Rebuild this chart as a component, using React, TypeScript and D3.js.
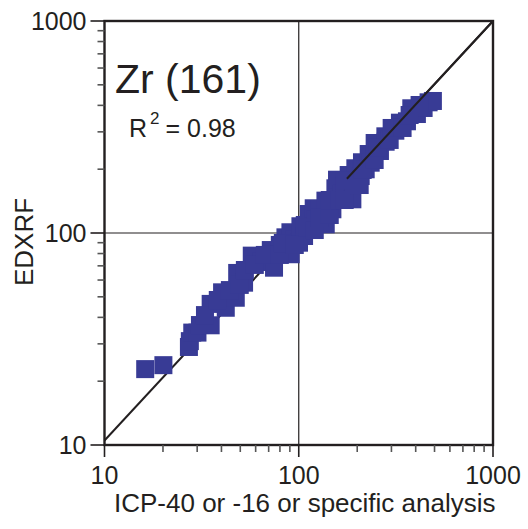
import React from "react";
import * as d3 from "d3";

const title = "Zr (161)";
const rSquared = "0.98";
const xAxisTitle = "ICP-40 or -16 or specific analysis";
const yAxisTitle = "EDXRF";
const majorTicks = [10, 100, 1000];
const minorTicks = [20, 30, 40, 50, 60, 70, 80, 90, 200, 300, 400, 500, 600, 700, 800, 900];

// ICP (x) and EDXRF (y) values
const icp = [
  16.2, 20.1, 27.2, 27.5, 28.3, 30.1, 35.2, 35.2, 42.1, 40.3, 47.4, 48.2, 52.3, 57.3, 64.5, 74.6,
  71.8, 79.9, 85.4, 90.9, 90.6, 95.4, 100.3, 102.0, 106.5, 107.4, 112.6, 119.4, 122.3, 128.2, 137.7,
  137.2, 149.0, 154.4, 157.4, 166.4, 172.4, 180.7, 188.8, 192.4, 195.6, 208.4, 211.6, 221.1, 229.1,
  234.6, 245.9, 261.8, 279.2, 280.1, 314.2, 331.8, 360.6, 379.7, 405.7, 439.3, 466.0, 490.4,
  31.0, 32.9, 38.3, 44.2, 49.7, 52.8, 59.4, 66.9, 79.9, 82.8, 95.4, 111.3, 120.9, 128.2, 144.4,
  144.4, 162.5, 172.4, 172.4, 205.9, 213.3, 245.9, 254.8, 293.8, 300.8, 342.4, 372.2, 418.9,
];
const edxrf = [
  22.8, 23.8, 29.0, 30.9, 33.9, 33.9, 36.7, 46.3, 44.4, 52.5, 49.5, 64.8, 58.3, 78.2, 73.0, 68.6,
  83.1, 87.8, 95.4, 79.4, 100.8, 92.7, 90.0, 107.6, 96.8, 109.1, 122.9, 130.8, 115.2, 128.4, 109.9,
  142.1, 129.4, 162.5, 178.4, 154.4, 166.6, 187.7, 144.2, 169.7, 202.0, 185.7, 215.6, 199.8, 235.8,
  214.6, 265.8, 243.7, 285.8, 269.5, 303.8, 331.4, 336.5, 387.5, 364.1, 388.8, 413.5, 419.5,
  36.8, 41.0, 48.3, 53.8, 56.9, 66.9, 70.7, 78.8, 78.8, 89.7, 87.8, 105.6, 103.3, 117.7, 121.6,
  143.1, 143.1, 143.1, 177.8, 168.4, 198.3, 221.0, 251.8, 274.7, 312.9, 312.9, 360.2, 401.6,
];
const fitLine = [
  [10, 10.5],
  [1000, 1000],
];
const fitLineTopFrom = 177;

const W = 528;
const H = 529;
const left = 104.5;
const right = 493;
const top = 21;
const bottom = 445;
const ink = "#231f20";
const markerFill = "#383b95";
const font = "'Liberation Sans', Arial, Helvetica, sans-serif";

export default function App() {
  const x = d3.scaleLog().domain([10, 1000]).range([left, right]);
  const y = d3.scaleLog().domain([10, 1000]).range([bottom, top]);
  const line = d3
    .line<number[]>()
    .x((d) => x(d[0]))
    .y((d) => y(d[1]));
  const slope = (Math.log10(fitLine[1][1]) - Math.log10(fitLine[0][1])) / 2;
  const topStart = [fitLineTopFrom, Math.pow(10, Math.log10(fitLine[0][1]) + slope * (Math.log10(fitLineTopFrom) - 1))];
  const size = 18;
  const points = icp.map((v, i) => [v, edxrf[i]]);

  return (
    <svg
      width={W}
      height={H}
      style={{ position: "absolute", left: 0, top: 0, background: "#fff" }}
      fontFamily={font}
    >
      <rect x={0} y={0} width={W} height={H} fill="#fff" />
      {/* inner reference lines */}
      <line x1={x(100)} x2={x(100)} y1={top} y2={bottom} stroke={ink} strokeWidth={1.2} />
      <line x1={left} x2={right} y1={y(100)} y2={y(100)} stroke={ink} strokeWidth={1.2} />
      {/* 1:1 line (under markers) */}
      <path d={line(fitLine) || ""} fill="none" stroke={ink} strokeWidth={2} />
      {/* markers */}
      {points.map((p, i) => (
        <rect
          key={i}
          x={x(p[0]) - size / 2}
          y={y(p[1]) - size / 2}
          width={size}
          height={size}
          fill={markerFill}
        />
      ))}
      {/* upper part of line on top */}
      <path d={line([topStart, fitLine[1]]) || ""} fill="none" stroke={ink} strokeWidth={2} />
      {/* frame */}
      <rect x={left} y={top} width={right - left} height={bottom - top} fill="none" stroke={ink} strokeWidth={2.4} />
      {/* y ticks */}
      {majorTicks.map((t) => (
        <line key={"ym" + t} x1={left - 14} x2={left} y1={y(t)} y2={y(t)} stroke={ink} strokeWidth={1.6} />
      ))}
      {minorTicks.map((t) => (
        <line key={"yn" + t} x1={left - 7} x2={left} y1={y(t)} y2={y(t)} stroke="#555" strokeWidth={1.6} />
      ))}
      {/* x ticks */}
      {majorTicks.map((t) => (
        <line key={"xm" + t} x1={x(t)} x2={x(t)} y1={bottom} y2={bottom + 12} stroke={ink} strokeWidth={1.6} />
      ))}
      {minorTicks.map((t) => (
        <line key={"xn" + t} x1={x(t)} x2={x(t)} y1={bottom} y2={bottom + 7} stroke="#555" strokeWidth={1.6} />
      ))}
      {/* tick labels */}
      {majorTicks.map((t) => (
        <text key={"yl" + t} x={left - 18} y={y(t) + 9} fontSize={25} textAnchor="end" fill={ink}>
          {t}
        </text>
      ))}
      {majorTicks.map((t) => (
        <text key={"xl" + t} x={x(t)} y={bottom + 39} fontSize={25} textAnchor="middle" fill={ink}>
          {t}
        </text>
      ))}
      {/* axis titles */}
      <text x={(left + right) / 2 + 6} y={512} fontSize={26} textAnchor="middle" fill={ink}>
        {xAxisTitle}
      </text>
      <text
        transform={`translate(33, 242) rotate(-90)`}
        fontSize={26}
        textAnchor="middle"
        fill={ink}
      >
        {yAxisTitle}
      </text>
      {/* annotation */}
      <text x={115} y={93} fontSize={41} fill={ink}>
        {title}
      </text>
      <text x={129} y={137} fontSize={25} fill={ink}>
        R
        <tspan fontSize={17} dy={-13} dx={3}>2</tspan>
        <tspan dy={13} dx={6}>= {rSquared}</tspan>
      </text>
    </svg>
  );
}
